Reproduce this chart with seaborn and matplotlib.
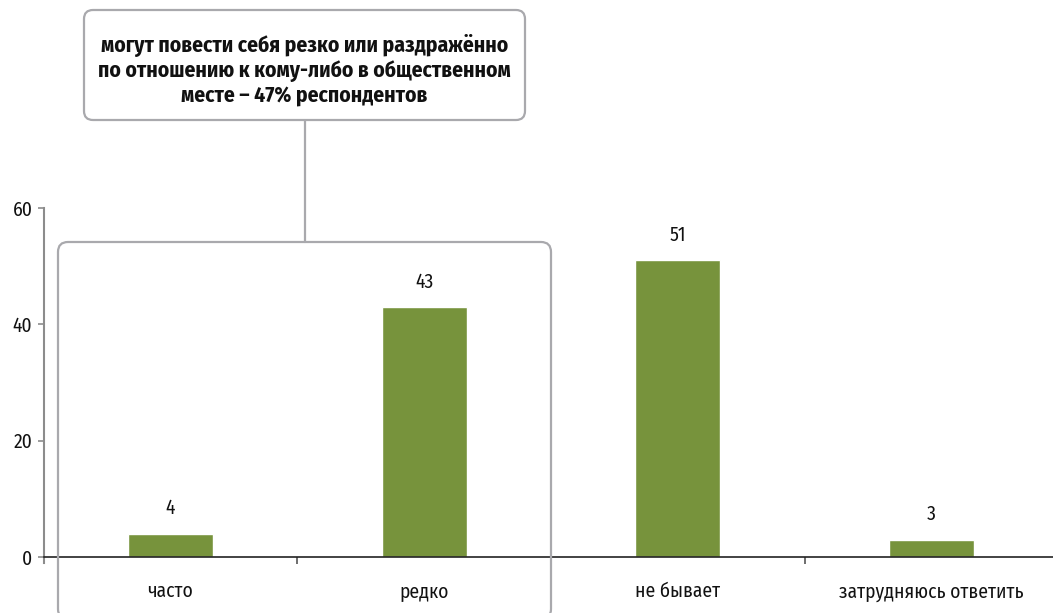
import matplotlib
matplotlib.use("Agg")
import matplotlib.pyplot as plt
from matplotlib.patches import FancyBboxPatch
from matplotlib.lines import Line2D
from matplotlib.transforms import IdentityTransform
import matplotlib.font_manager as fm
import seaborn as sns
import pandas as pd

# Survey answers: how often respondents behave sharply or irritably in public
categories = ["часто", "редко", "не бывает", "затрудняюсь ответить"]
shares = [4, 43, 51, 3]
y_ticks = [0, 20, 40, 60]
callout_text = ("могут повести себя резко или раздражённо\n"
                "по отношению к кому-либо в общественном\n"
                "месте – 47% респондентов")

sns.set_style("white")
installed = {f.name for f in fm.fontManager.ttflist}
preferred = ["Fira Sans Condensed", "PT Sans Narrow", "Roboto Condensed",
             "Archivo Narrow"]
families = [f for f in preferred if f in installed] + ["DejaVu Sans"]
plt.rcParams["font.family"] = families

BAR_COLOR = "#77933c"
FRAME_COLOR = "#a9a9ad"
TEXT_COLOR = "#111111"
FS = 14

df = pd.DataFrame({"category": categories, "share": shares})

W, H, DPI = 1053, 613, 100
fig = plt.figure(figsize=(W / DPI, H / DPI), dpi=DPI)
ax = fig.add_axes([43.5 / W, (H - 557) / H, 1015 / W, 349 / H])

sns.barplot(data=df, x="category", y="share", color=BAR_COLOR,
            width=0.335, saturation=1, ax=ax)

ax.set_xlim(-0.5, len(categories) - 0.5)
ax.set_ylim(0, 60)
ax.set_xlabel("")
ax.set_ylabel("")

# value labels above bars
for i, v in enumerate(shares):
    ax.annotate(f"{v:d}", (i, v), xytext=(0, 11), textcoords="offset points",
                ha="center", va="bottom", fontsize=FS, color=TEXT_COLOR)

# axes styling
for side in ("top", "right"):
    ax.spines[side].set_visible(False)
ax.spines["left"].set_color("#8c8c8c")
ax.spines["left"].set_linewidth(1.5)
ax.spines["left"].set_bounds(-1.1, 60)
ax.spines["bottom"].set_color("#222222")
ax.spines["bottom"].set_linewidth(1.2)

ax.set_yticks(y_ticks)
ax.tick_params(axis="y", direction="out", length=4, width=1.2, color="#8c8c8c",
               labelsize=FS, pad=4, left=True)
ax.set_xticks(range(len(categories)))
ax.set_xticklabels(categories)
ax.tick_params(axis="x", which="major", length=0, labelsize=FS, pad=18)
ax.set_xticks([i + 0.5 for i in range(len(categories) - 1)], minor=True)
ax.tick_params(axis="x", which="minor", direction="out", length=5, width=1.2,
               color="#555555", bottom=True)
for lbl in ax.get_yticklabels() + ax.get_xticklabels():
    lbl.set_color(TEXT_COLOR)

# callout box with the summary figure
px = IdentityTransform()
callout = FancyBboxPatch((84, H - 120), 441, 110,
                         boxstyle="round,pad=0,rounding_size=9",
                         transform=px, facecolor="white",
                         edgecolor=FRAME_COLOR, linewidth=1.6, zorder=5)
fig.patches.append(callout)
fig.text(304.5 / W, (H - 70) / H, callout_text, ha="center", va="center",
         fontsize=15.5, fontweight="bold", linespacing=1.17, color=TEXT_COLOR,
         zorder=6)

# bracket framing the "часто" and "редко" answers
group = FancyBboxPatch((58, -6), 493, H - 242 + 6,
                       boxstyle="round,pad=0,rounding_size=10",
                       transform=px, facecolor="none",
                       edgecolor=FRAME_COLOR, linewidth=1.6, zorder=5)
fig.patches.append(group)
fig.lines.append(Line2D([305, 305], [H - 120, H - 242], transform=px,
                        color=FRAME_COLOR, linewidth=1.6, zorder=5))

fig.savefig("out.png", dpi=DPI)
